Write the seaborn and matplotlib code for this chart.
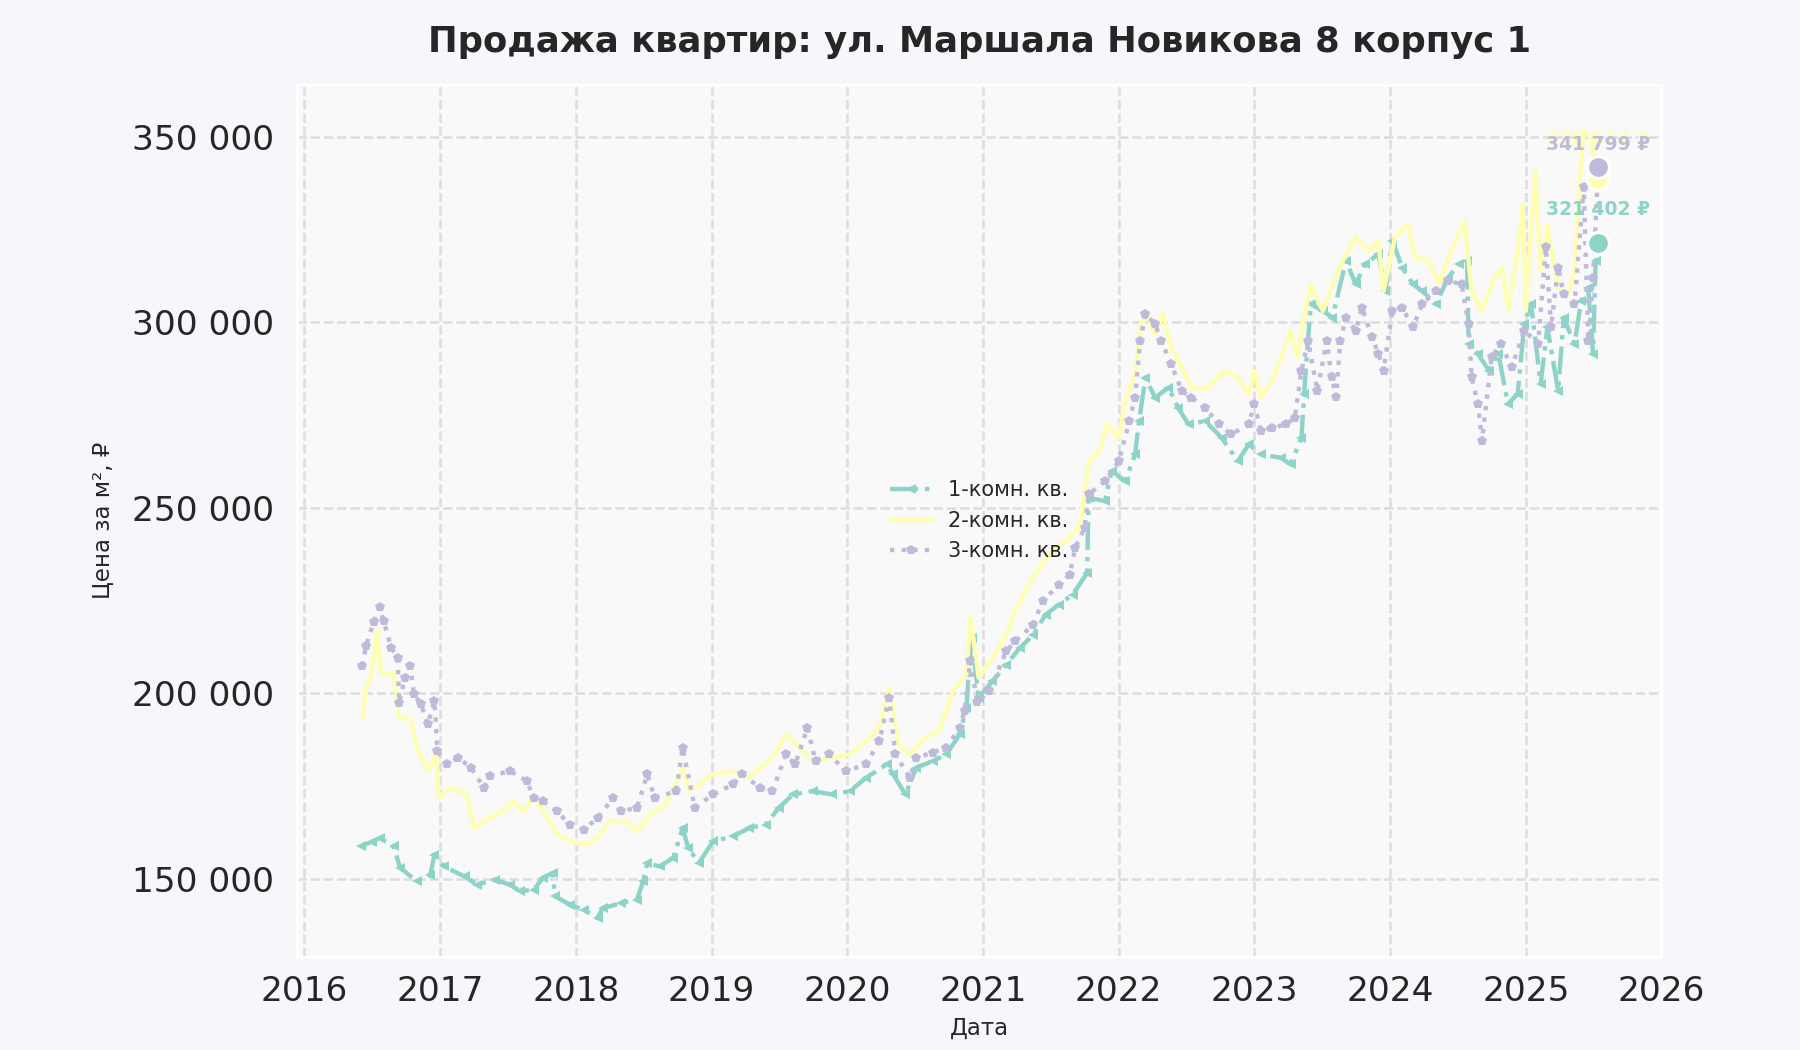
import pandas as pd
import seaborn as sns
import matplotlib.pyplot as plt
from matplotlib.ticker import FuncFormatter

# Step 1: data (price per m2, thousands of rubles)
dates_1k = ['2016-06-01', '2016-07-01', '2016-07-22', '2016-08-28', '2016-09-15', '2016-10-30',
            '2016-12-05', '2016-12-16', '2017-01-10', '2017-03-07', '2017-04-10', '2017-05-27',
            '2017-07-08', '2017-08-03', '2017-09-09', '2017-10-04', '2017-10-30', '2017-11-06',
            '2017-12-16', '2018-01-22', '2018-02-28', '2018-03-14', '2018-05-01', '2018-06-14',
            '2018-07-01', '2018-07-12', '2018-08-14', '2018-09-20', '2018-10-15', '2018-10-30',
            '2018-11-28', '2019-01-05', '2019-02-28', '2019-04-13', '2019-05-27', '2019-07-01',
            '2019-08-08', '2019-10-01', '2019-11-21', '2020-01-08', '2020-02-21', '2020-04-16',
            '2020-05-04', '2020-06-06', '2020-07-05', '2020-08-18', '2020-09-24', '2020-10-30',
            '2020-11-17', '2020-12-01', '2020-12-20', '2021-01-26', '2021-03-04', '2021-04-10',
            '2021-05-16', '2021-06-18', '2021-07-24', '2021-08-30', '2021-10-08', '2021-10-12',
            '2021-11-25', '2021-12-13', '2022-01-19', '2022-02-14', '2022-02-25', '2022-03-14',
            '2022-04-09', '2022-05-15', '2022-06-10', '2022-07-08', '2022-08-22', '2022-10-05',
            '2022-11-18', '2022-12-17', '2023-01-19', '2023-03-14', '2023-04-09', '2023-05-08',
            '2023-05-15', '2023-06-02', '2023-07-05', '2023-07-30', '2023-09-05', '2023-10-01',
            '2023-10-26', '2023-12-01', '2023-12-20', '2024-01-08', '2024-02-03', '2024-03-03',
            '2024-03-28', '2024-05-04', '2024-06-06', '2024-07-05', '2024-07-27', '2024-07-31',
            '2024-08-25', '2024-09-24', '2024-10-19', '2024-11-14', '2024-12-10', '2024-12-28',
            '2025-01-15', '2025-02-10', '2025-02-28', '2025-03-29', '2025-04-13', '2025-05-12',
            '2025-05-30', '2025-06-18', '2025-07-01', '2025-07-08', '2025-07-15']
price_1k = [158.7, 160.0, 161.0, 158.7, 152.9, 149.3,
            151.0, 156.5, 153.3, 150.6, 148.4, 149.7,
            148.4, 146.6, 147.0, 150.2, 151.5, 145.2,
            143.0, 141.6, 139.4, 142.0, 143.4, 144.3,
            149.3, 154.2, 153.3, 155.6, 163.7, 158.3,
            154.2, 160.1, 161.4, 163.7, 164.6, 169.1,
            172.7, 173.6, 172.7, 173.6, 177.2, 180.8,
            178.1, 172.7, 179.9, 181.7, 183.5, 188.9,
            196.1, 215.0, 198.8, 203.2, 207.7, 212.2,
            215.8, 221.2, 223.9, 226.6, 232.4, 252.7,
            251.8, 259.9, 257.2, 264.4, 273.4, 285.1,
            279.7, 282.4, 277.0, 272.5, 273.4, 268.9,
            262.6, 267.1, 264.4, 263.5, 261.7, 268.9,
            280.6, 305.0, 303.1, 301.3, 316.6, 310.3,
            315.7, 318.4, 308.5, 322.0, 314.8, 310.3,
            308.5, 304.9, 312.1, 315.7, 316.6, 294.2,
            291.5, 287.0, 291.5, 278.0, 280.7, 299.6,
            305.0, 283.4, 298.7, 281.6, 301.3, 294.2,
            305.8, 309.4, 291.5, 316.6, 321.402]

dates_2k = ['2016-06-05', '2016-06-15', '2016-06-28', '2016-07-15', '2016-07-25', '2016-08-28',
            '2016-09-12', '2016-10-12', '2016-10-30', '2016-11-28', '2016-12-20', '2016-12-28',
            '2017-01-30', '2017-03-14', '2017-04-01', '2017-05-15', '2017-06-20', '2017-07-16',
            '2017-08-14', '2017-09-09', '2017-10-04', '2017-11-10', '2017-12-28', '2018-01-30',
            '2018-02-28', '2018-04-01', '2018-05-18', '2018-06-14', '2018-07-20', '2018-09-01',
            '2018-10-15', '2018-11-03', '2019-01-05', '2019-02-28', '2019-04-13', '2019-05-12',
            '2019-06-14', '2019-07-20', '2019-08-25', '2019-10-01', '2019-11-21', '2020-01-08',
            '2020-02-21', '2020-03-28', '2020-04-23', '2020-05-18', '2020-06-18', '2020-07-30',
            '2020-09-05', '2020-10-12', '2020-11-17', '2020-11-28', '2020-12-20', '2021-01-26',
            '2021-03-04', '2021-03-28', '2021-05-04', '2021-06-02', '2021-07-05', '2021-08-10',
            '2021-09-16', '2021-10-04', '2021-10-12', '2021-11-10', '2021-12-01', '2022-01-01',
            '2022-01-19', '2022-02-14', '2022-03-04', '2022-03-22', '2022-04-09', '2022-04-30',
            '2022-05-22', '2022-06-20', '2022-07-16', '2022-08-22', '2022-10-12', '2022-11-18',
            '2022-12-17', '2023-01-01', '2023-01-19', '2023-02-18', '2023-03-28', '2023-04-09',
            '2023-04-28', '2023-05-15', '2023-06-02', '2023-06-25', '2023-07-05', '2023-08-18',
            '2023-10-01', '2023-11-06', '2023-12-01', '2023-12-15', '2024-01-15', '2024-02-18',
            '2024-03-10', '2024-04-16', '2024-05-12', '2024-06-18', '2024-07-20', '2024-08-08',
            '2024-09-05', '2024-10-08', '2024-10-30', '2024-11-14', '2024-12-10', '2024-12-24',
            '2025-01-01', '2025-01-26', '2025-02-10', '2025-02-28', '2025-03-29', '2025-04-24',
            '2025-05-12', '2025-05-30', '2025-06-06', '2025-06-25', '2025-07-15']
price_2k = [193.0, 201.5, 204.2, 216.8, 205.6, 205.1,
            193.4, 193.0, 185.3, 179.0, 183.5, 171.8,
            174.5, 172.7, 163.7, 166.4, 168.2, 170.9,
            168.2, 171.8, 168.6, 161.9, 159.6, 159.2,
            161.0, 165.5, 165.5, 162.8, 167.3, 170.0,
            179.9, 173.6, 178.1, 179.0, 177.2, 179.9,
            182.6, 188.9, 185.3, 181.7, 182.6, 183.5,
            187.1, 190.7, 201.5, 186.2, 183.5, 188.0,
            189.8, 200.6, 205.1, 220.5, 204.2, 209.5,
            215.8, 222.1, 229.3, 233.8, 238.3, 241.0,
            244.6, 255.4, 262.6, 265.3, 272.5, 268.9,
            278.8, 286.0, 300.5, 301.4, 296.8, 302.3,
            293.2, 287.8, 282.4, 282.0, 286.9, 285.1,
            280.6, 286.9, 279.7, 284.2, 294.1, 297.7,
            290.5, 301.4, 310.4, 305.0, 303.1, 314.8,
            322.9, 319.3, 322.0, 308.5, 322.9, 326.5,
            317.5, 316.6, 310.3, 320.2, 327.4, 308.5,
            303.1, 312.1, 314.8, 303.1, 319.3, 331.9,
            303.1, 340.8, 313.9, 326.5, 309.4, 307.6,
            313.9, 343.5, 351.6, 349.8, 338.614]

dates_3k = ['2016-06-05', '2016-06-15', '2016-07-05', '2016-07-22', '2016-08-01', '2016-08-22',
            '2016-09-08', '2016-09-12', '2016-09-28', '2016-10-12', '2016-10-22', '2016-11-10',
            '2016-11-28', '2016-12-16', '2016-12-24', '2017-01-18', '2017-02-18', '2017-03-25',
            '2017-04-28', '2017-05-15', '2017-07-08', '2017-08-22', '2017-09-09', '2017-10-04',
            '2017-11-10', '2017-12-16', '2018-01-22', '2018-02-28', '2018-04-12', '2018-05-01',
            '2018-06-14', '2018-07-12', '2018-08-01', '2018-09-28', '2018-10-15', '2018-11-17',
            '2019-01-05', '2019-02-28', '2019-03-25', '2019-05-12', '2019-06-14', '2019-07-20',
            '2019-08-14', '2019-09-16', '2019-10-08', '2019-11-14', '2019-12-28', '2020-02-21',
            '2020-03-28', '2020-04-23', '2020-05-10', '2020-06-18', '2020-07-05', '2020-08-18',
            '2020-09-24', '2020-10-30', '2020-11-12', '2020-11-28', '2020-12-16', '2021-01-18',
            '2021-03-04', '2021-03-28', '2021-05-16', '2021-06-10', '2021-07-24', '2021-08-22',
            '2021-09-06', '2021-10-01', '2021-10-12', '2021-11-25', '2022-01-01', '2022-01-30',
            '2022-02-14', '2022-02-28', '2022-03-14', '2022-04-09', '2022-04-26', '2022-05-22',
            '2022-06-20', '2022-07-16', '2022-08-22', '2022-09-28', '2022-10-30', '2022-12-17',
            '2023-01-01', '2023-01-19', '2023-02-18', '2023-03-28', '2023-04-20', '2023-05-08',
            '2023-05-26', '2023-06-20', '2023-07-15', '2023-07-28', '2023-08-10', '2023-08-20',
            '2023-09-05', '2023-10-01', '2023-10-18', '2023-11-14', '2023-12-01', '2023-12-15',
            '2024-01-08', '2024-02-03', '2024-03-03', '2024-03-28', '2024-05-04', '2024-06-06',
            '2024-07-12', '2024-07-31', '2024-08-08', '2024-08-25', '2024-09-05', '2024-10-01',
            '2024-10-26', '2024-11-24', '2024-12-28', '2025-02-03', '2025-02-24', '2025-03-10',
            '2025-03-29', '2025-04-13', '2025-05-12', '2025-06-06', '2025-06-18', '2025-07-01',
            '2025-07-15']
price_3k = [207.4, 212.8, 219.1, 223.2, 219.5, 212.3,
            209.6, 197.5, 204.2, 207.4, 199.7, 197.0,
            191.6, 197.9, 184.4, 180.8, 182.6, 179.9,
            174.5, 177.7, 179.0, 176.3, 171.8, 170.9,
            168.2, 164.6, 163.2, 166.4, 171.8, 168.2,
            169.1, 178.1, 171.8, 173.6, 185.3, 169.1,
            172.7, 175.4, 178.1, 174.5, 173.6, 183.5,
            180.8, 190.7, 181.7, 183.5, 179.0, 180.8,
            187.1, 198.8, 183.5, 177.2, 182.6, 184.0,
            185.3, 190.7, 195.2, 208.7, 197.7, 200.5,
            211.3, 214.0, 218.5, 224.8, 229.3, 232.0,
            239.2, 244.6, 253.6, 257.2, 262.6, 273.4,
            279.7, 295.0, 302.3, 299.5, 295.0, 288.7,
            281.5, 279.7, 277.0, 272.5, 269.8, 272.5,
            277.9, 270.7, 271.6, 272.5, 274.3, 286.9,
            295.0, 281.5, 295.1, 285.2, 279.8, 295.1,
            301.3, 297.8, 304.0, 296.0, 291.5, 287.0,
            303.1, 304.0, 298.7, 304.9, 308.5, 311.2,
            310.3, 299.6, 285.2, 278.0, 268.1, 290.6,
            294.2, 287.9, 297.8, 294.2, 320.2, 298.7,
            314.8, 307.6, 304.9, 336.4, 295.1, 312.1,
            341.799]

labels = ['1-комн. кв.', '2-комн. кв.', '3-комн. кв.']
colors = ['#8dd3c7', '#ffffb3', '#bebada']

series = []
for dates, prices, name in zip([dates_1k, dates_2k, dates_3k], [price_1k, price_2k, price_3k], labels):
    df = pd.DataFrame({'Дата': pd.to_datetime(dates), 'Цена': [p * 1000 for p in prices]})
    df['Тип'] = name
    series.append(df)

# Step 2: style
sns.set_theme(style='whitegrid')
plt.rcParams['font.family'] = ['DejaVu Sans']

fig, ax = plt.subplots(figsize=(12, 7), dpi=150)
fig.patch.set_facecolor('#f5f7fa')
ax.set_facecolor('#f9f9f9')
fig.subplots_adjust(left=0.165, right=0.923, top=0.919, bottom=0.089)

line_styles = ['-.', '-', ':']
markers = ['<', None, 'p']
text_offsets = [16, 19, 11]

# Step 3: draw the lines, end dots and labels
for df, color, ls, mk, off in zip(series, colors, line_styles, markers, text_offsets):
    name = df['Тип'].iloc[0]
    sns.lineplot(data=df, x='Дата', y='Цена', ax=ax, color=color, linestyle=ls,
                 marker=mk, markersize=5, markeredgewidth=0, linewidth=2.1, label=name)
    last = df.iloc[-1]
    ax.scatter([last['Дата']], [last['Цена']], s=110, color=color, edgecolor='white',
               linewidth=1.5, zorder=5)
    ax.annotate(f"{last['Цена']:,.0f}".replace(',', ' ') + ' ₽',
                (last['Дата'], last['Цена']), xytext=(0, off), textcoords='offset points',
                ha='center', va='center', fontsize=9, fontweight='bold', color=color, zorder=6)

# Step 4: axes, ticks, grid
ax.set_xlim(pd.Timestamp('2015-12-12'), pd.Timestamp('2026-01-01'))
ax.set_ylim(129000, 364000)
ax.set_yticks([150000, 200000, 250000, 300000, 350000])
ax.yaxis.set_major_formatter(FuncFormatter(lambda v, p: f'{v:,.0f}'.replace(',', ' ')))
ax.set_xticks(pd.to_datetime([f'{y}-01-01' for y in range(2016, 2027)]))
ax.set_xticklabels([str(y) for y in range(2016, 2027)])
ax.tick_params(axis='both', labelsize=16.5, colors='#262626', length=0)
ax.tick_params(axis='y', pad=11)
ax.tick_params(axis='x', pad=9)
ax.grid(True, linestyle='--', color='#dddddd', linewidth=1.2)
for s in ax.spines.values():
    s.set_color('white')
    s.set_linewidth(1.5)

ax.set_title('Продажа квартир: ул. Маршала Новикова 8 корпус 1', fontsize=17,
             fontweight='bold', color='#262626', pad=16)
ax.set_xlabel('Дата', fontsize=11, color='#262626', labelpad=4)
ax.set_ylabel('Цена за м², ₽', fontsize=11, color='#262626', labelpad=8)

leg = ax.legend(loc='center', frameon=False, fontsize=10)
for t in leg.get_texts():
    t.set_color('#262626')

# Step 5: save
plt.savefig('out.png', dpi=150, facecolor=fig.get_facecolor())
